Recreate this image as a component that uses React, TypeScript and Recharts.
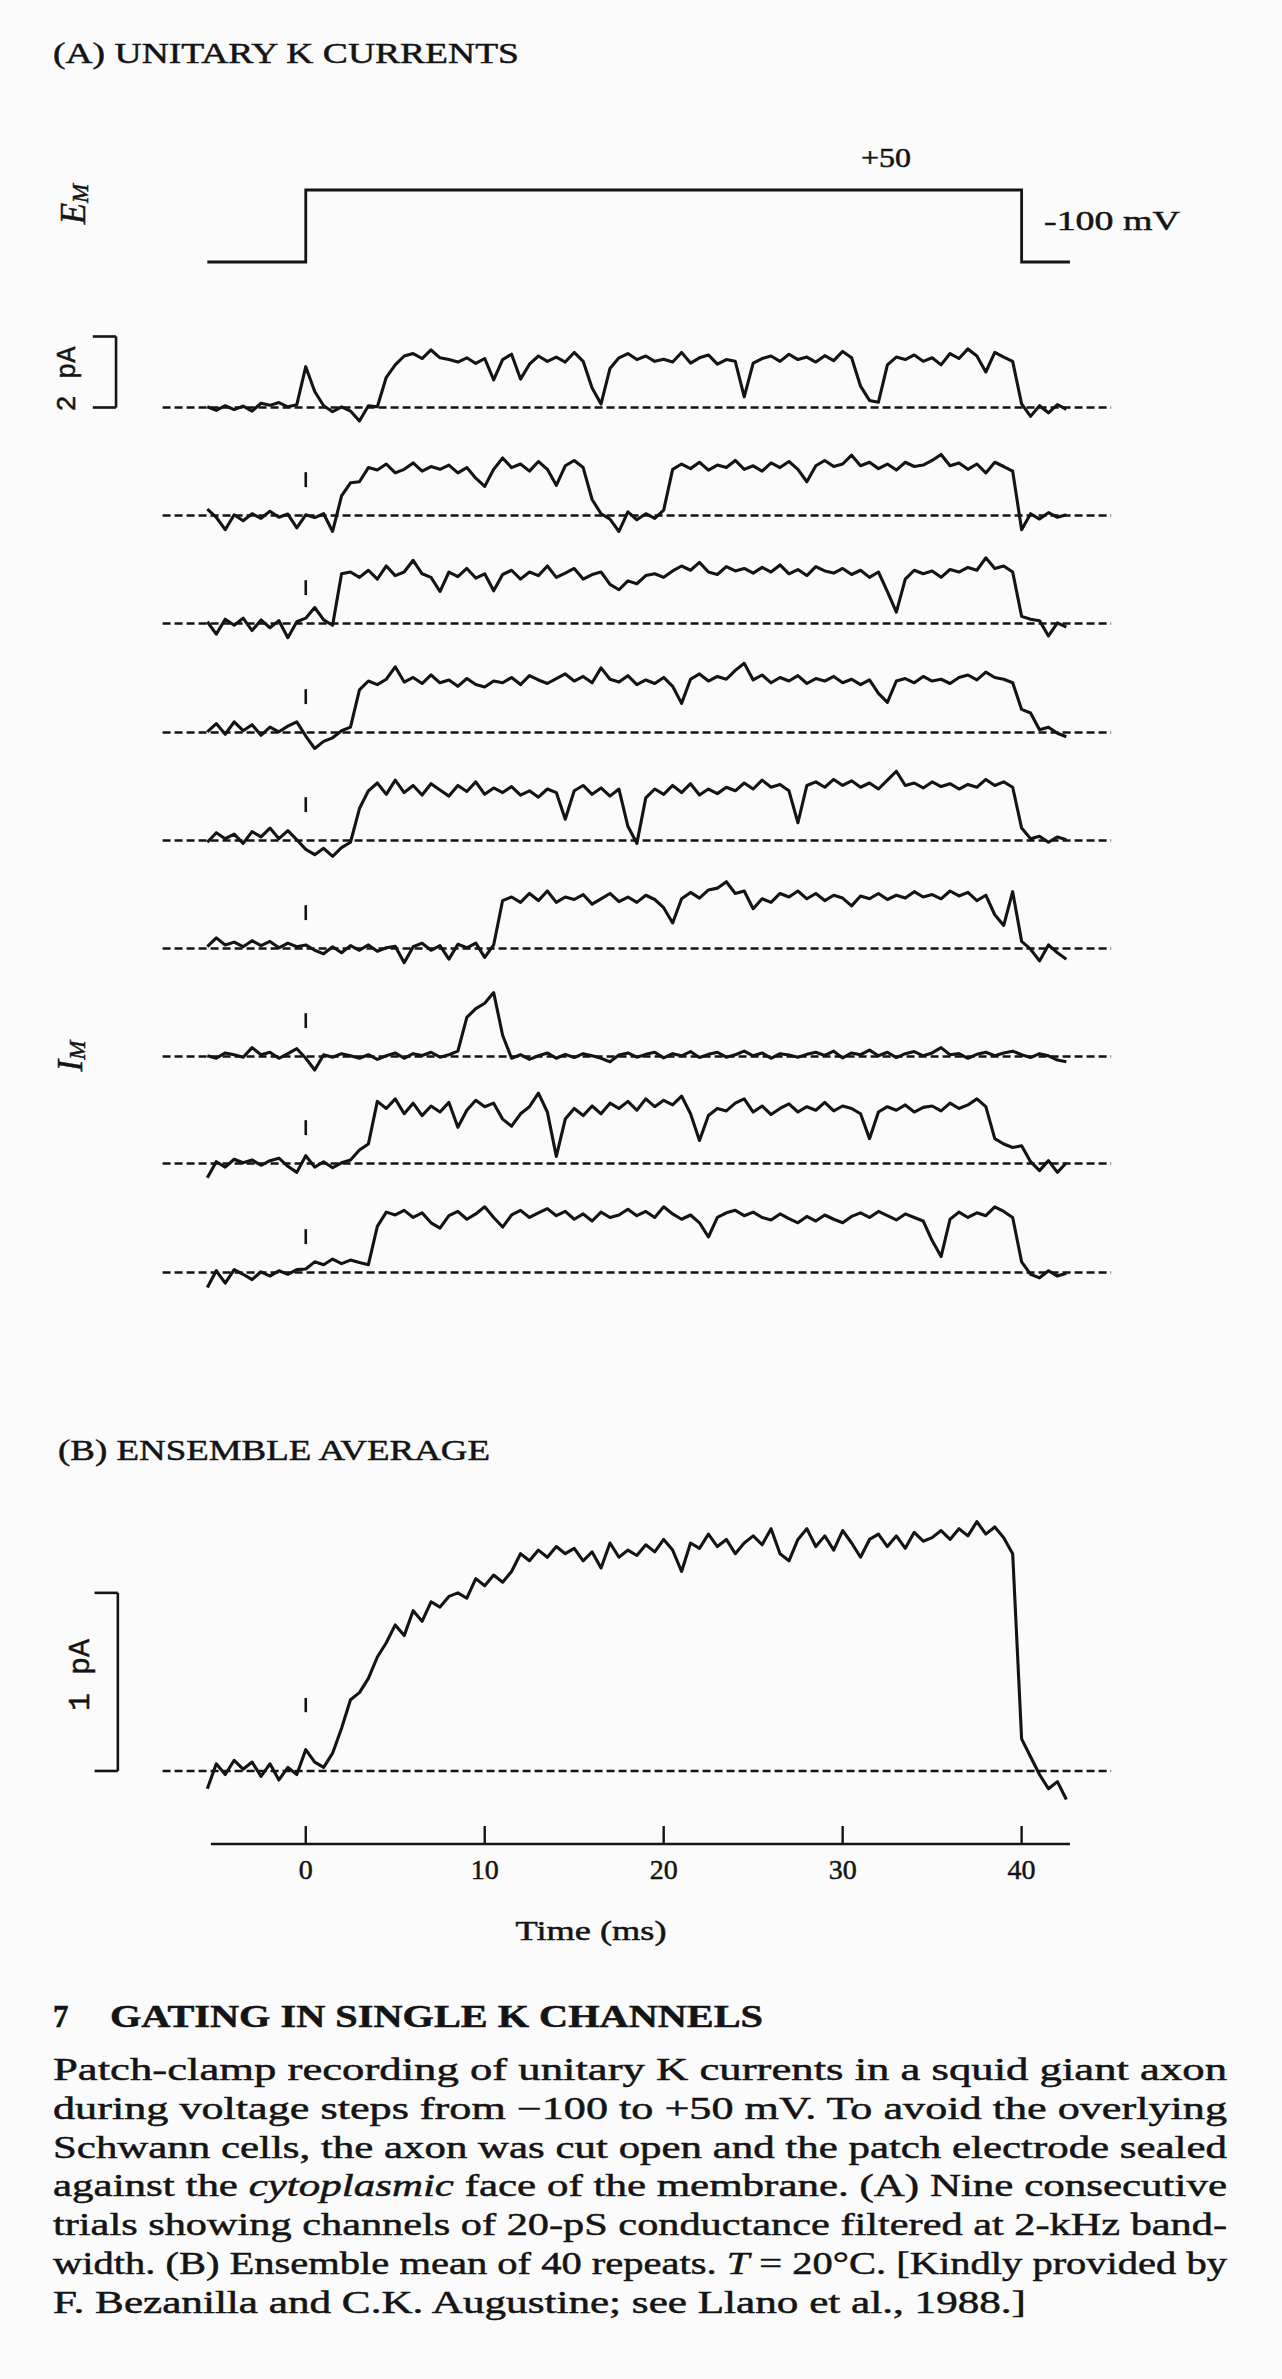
import React from "react";
import { LineChart, Line, XAxis, YAxis, ReferenceLine } from "recharts";

const T_START = -5.5;
const T_STEP = 0.5;

// ---- (A) nine consecutive trials, current in pA ----
const trial1 = [
  0.02, -0.08, 0.05, -0.06, 0.04, -0.1, 0.12, 0.06, 0.14, 0.02,
  0.08, 1.15, 0.45, 0.05, -0.12, 0.02, -0.1, -0.38, 0.05, 0.02,
  0.85, 1.2, 1.45, 1.52, 1.38, 1.62, 1.4, 1.35, 1.28, 1.4,
  1.24, 1.38, 0.78, 1.35, 1.5, 0.8, 1.22, 1.45, 1.3, 1.42,
  1.28, 1.55, 1.3, 0.55, 0.1, 1.1, 1.4, 1.52, 1.35, 1.45,
  1.3, 1.36, 1.28, 1.55, 1.25, 1.4, 1.48, 1.22, 1.35, 1.3,
  0.3, 1.25, 1.38, 1.45, 1.3, 1.5, 1.35, 1.42, 1.28, 1.46,
  1.32, 1.58, 1.4, 0.6, 0.2, 0.15, 1.2, 1.42, 1.35, 1.48,
  1.3, 1.4, 1.2, 1.52, 1.38, 1.65, 1.45, 1.0, 1.55, 1.42,
  1.3, 0.1, -0.25, 0.05, -0.15, 0.08, -0.05,
];
const trial2 = [
  0.18, -0.05, -0.4, 0.02, -0.15, 0.05, -0.08, 0.12, -0.05, 0.04,
  -0.35, 0.02, -0.06, 0.05, -0.45, 0.55, 0.92, 0.95, 1.35, 1.28,
  1.45, 1.2, 1.3, 1.48, 1.25, 1.38, 1.3, 1.42, 1.2, 1.35,
  1.05, 0.82, 1.3, 1.62, 1.35, 1.45, 1.25, 1.52, 1.3, 0.85,
  1.4, 1.55, 1.35, 0.45, 0.05, -0.1, -0.45, 0.1, -0.12, 0.05,
  -0.08, 0.15, 1.3, 1.45, 1.32, 1.5, 1.28, 1.42, 1.35, 1.55,
  1.3, 1.4, 1.25, 1.48, 1.35, 1.52, 1.3, 0.95, 1.4, 1.55,
  1.38, 1.45, 1.7, 1.4, 1.5, 1.32, 1.45, 1.28, 1.5, 1.38,
  1.42, 1.55, 1.72, 1.4, 1.48, 1.3, 1.45, 1.2, 1.5, 1.38,
  1.25, -0.4, 0.05, -0.1, 0.08, -0.05, 0.02,
];
const trial3 = [
  0.05, -0.3, 0.12, -0.05, 0.15, -0.2, 0.1, -0.12, 0.08, -0.4,
  0.05, 0.15, 0.45, 0.1, -0.05, 1.4, 1.45, 1.3, 1.5, 1.25,
  1.62, 1.35, 1.45, 1.78, 1.4, 1.3, 0.9, 1.45, 1.32, 1.55,
  1.28, 1.4, 0.92, 1.38, 1.5, 1.25, 1.45, 1.35, 1.62, 1.3,
  1.42, 1.55, 1.25, 1.38, 1.45, 1.1, 0.95, 1.2, 1.12, 1.35,
  1.4, 1.3, 1.48, 1.62, 1.5, 1.72, 1.45, 1.38, 1.6, 1.48,
  1.55, 1.42, 1.58, 1.45, 1.65, 1.4, 1.52, 1.35, 1.6, 1.48,
  1.42, 1.55, 1.38, 1.5, 1.3, 1.45, 0.9, 0.32, 1.25, 1.5,
  1.4, 1.48, 1.3, 1.52, 1.45, 1.58, 1.5, 1.85, 1.55, 1.62,
  1.45, 0.2, 0.12, 0.08, -0.35, 0.02, -0.1,
];
const trial4 = [
  0.02, 0.25, -0.05, 0.3, 0.05, 0.22, -0.08, 0.15, 0.02, 0.18,
  0.3, -0.1, -0.45, -0.25, -0.15, 0.05, 0.15, 1.2, 1.45, 1.35,
  1.5, 1.85, 1.42, 1.55, 1.38, 1.62, 1.4, 1.48, 1.3, 1.52,
  1.35, 1.28, 1.45, 1.4, 1.55, 1.35, 1.6, 1.48, 1.38, 1.52,
  1.65, 1.45, 1.58, 1.4, 1.82, 1.5, 1.42, 1.6, 1.35, 1.48,
  1.38, 1.55, 1.3, 0.82, 1.5, 1.65, 1.45, 1.58, 1.5, 1.75,
  1.95, 1.48, 1.62, 1.4, 1.55, 1.45, 1.6, 1.38, 1.52, 1.45,
  1.58, 1.4, 1.5, 1.35, 1.48, 1.1, 0.85, 1.45, 1.52, 1.4,
  1.58, 1.45, 1.5, 1.38, 1.55, 1.62, 1.48, 1.7, 1.55, 1.5,
  1.4, 0.65, 0.55, 0.08, 0.15, -0.02, -0.12,
];
const trial5 = [
  -0.05, 0.22, 0.05, 0.18, -0.08, 0.25, 0.1, 0.35, 0.05, 0.28,
  0.02, -0.25, -0.4, -0.22, -0.45, -0.2, -0.05, 0.9, 1.4, 1.62,
  1.3, 1.7, 1.35, 1.55, 1.28, 1.6, 1.42, 1.25, 1.55, 1.38,
  1.65, 1.3, 1.48, 1.35, 1.52, 1.28, 1.4, 1.22, 1.45, 1.35,
  0.6, 1.4, 1.55, 1.3, 1.48, 1.25, 1.45, 0.4, -0.08, 1.2,
  1.45, 1.3, 1.55, 1.35, 1.6, 1.28, 1.45, 1.32, 1.5, 1.4,
  1.62, 1.45, 1.7, 1.5, 1.58, 1.4, 0.5, 1.55, 1.65, 1.5,
  1.72, 1.55, 1.68, 1.5, 1.62, 1.45, 1.7, 1.95, 1.55, 1.62,
  1.48, 1.65, 1.52, 1.6, 1.45, 1.58, 1.5, 1.72, 1.55, 1.65,
  1.5, 0.35, 0.05, 0.12, -0.05, 0.1, 0.02,
];
const trial6 = [
  0.05, 0.3, 0.1, 0.18, 0.05, 0.22, 0.08, 0.2, 0.02, 0.15,
  0.05, 0.1, -0.05, -0.15, 0.05, -0.12, 0.08, -0.05, 0.1, -0.08,
  0.02, 0.06, -0.4, 0.05, 0.15, -0.05, 0.08, -0.3, 0.12, 0.02,
  0.15, -0.25, 0.1, 1.35, 1.45, 1.3, 1.55, 1.35, 1.62, 1.3,
  1.45, 1.38, 1.52, 1.25, 1.4, 1.55, 1.32, 1.45, 1.3, 1.5,
  1.38, 1.15, 0.72, 1.4, 1.58, 1.42, 1.65, 1.7, 1.88, 1.55,
  1.62, 1.12, 1.4, 1.3, 1.55, 1.45, 1.62, 1.4, 1.55, 1.35,
  1.5, 1.42, 1.2, 1.48, 1.4, 1.55, 1.38, 1.5, 1.42, 1.6,
  1.45, 1.52, 1.4, 1.62, 1.48, 1.58, 1.35, 1.5, 0.95, 0.65,
  1.6, 0.2, -0.02, -0.35, 0.1, -0.12, -0.3,
];
const trial7 = [
  0.02, -0.05, 0.1, 0.05, -0.02, 0.25, 0.05, 0.12, -0.05, 0.08,
  0.22, -0.05, -0.38, 0.05, -0.02, 0.08, 0.02, -0.05, 0.05, -0.08,
  0.02, 0.1, -0.05, 0.08, 0.03, 0.12, -0.02, 0.05, 0.15, 1.1,
  1.35, 1.5, 1.8, 0.6, -0.05, 0.05, -0.08, 0.02, 0.1, -0.05,
  0.06, -0.03, 0.08, 0.02, -0.05, -0.15, 0.04, 0.1, -0.02, 0.06,
  0.12, -0.04, 0.08, 0.02, 0.14, -0.03, 0.06, 0.12, -0.02, 0.05,
  0.15, 0.02, 0.1, -0.05, 0.08, 0.04, -0.02, 0.06, 0.12, 0.03,
  0.15, -0.04, 0.1, 0.05, 0.18, 0.02, 0.12, -0.03, 0.08, 0.14,
  0.02, 0.1, 0.25, 0.05, 0.08, -0.05, 0.06, 0.12, 0.02, 0.1,
  0.15, 0.05, -0.03, 0.08, 0.02, -0.1, -0.15,
];
const trial8 = [
  -0.4, 0.05, -0.1, 0.12, 0.02, 0.1, -0.05, 0.08, 0.15, -0.08,
  -0.25, 0.22, -0.1, 0.05, -0.12, 0.02, 0.1, 0.38, 0.55, 1.75,
  1.55, 1.82, 1.4, 1.7, 1.35, 1.62, 1.45, 1.72, 1.02, 1.5,
  1.78, 1.6, 1.7, 1.25, 1.05, 1.4, 1.6, 1.98, 1.45, 0.2,
  1.25, 1.55, 1.35, 1.62, 1.4, 1.7, 1.55, 1.75, 1.5, 1.82,
  1.6, 1.78, 1.65, 1.9, 1.4, 0.65, 1.35, 1.55, 1.48, 1.7,
  1.82, 1.45, 1.62, 1.38, 1.55, 1.68, 1.45, 1.6, 1.5, 1.72,
  1.48, 1.62, 1.55, 1.4, 0.7, 1.45, 1.6, 1.5, 1.65, 1.45,
  1.58, 1.62, 1.48, 1.7, 1.55, 1.65, 1.82, 1.6, 0.7, 0.55,
  0.45, 0.5, 0.05, -0.2, 0.08, -0.25, 0.02,
];
const trial9 = [
  -0.42, 0.05, -0.3, 0.08, -0.05, -0.2, 0.02, -0.1, 0.05, -0.05,
  0.08, 0.1, 0.3, 0.22, 0.38, 0.25, 0.35, 0.28, 0.22, 1.3,
  1.7, 1.62, 1.75, 1.55, 1.68, 1.4, 1.25, 1.6, 1.72, 1.5,
  1.65, 1.85, 1.55, 1.28, 1.62, 1.75, 1.55, 1.68, 1.8, 1.6,
  1.72, 1.5, 1.65, 1.45, 1.7, 1.55, 1.62, 1.78, 1.6, 1.72,
  1.55, 1.85, 1.65, 1.5, 1.62, 1.4, 1.0, 1.55, 1.68, 1.75,
  1.6, 1.7, 1.55, 1.48, 1.65, 1.52, 1.4, 1.58, 1.45, 1.62,
  1.5, 1.4, 1.58, 1.68, 1.55, 1.72, 1.6, 1.48, 1.65, 1.55,
  1.45, 0.9, 0.45, 1.5, 1.7, 1.55, 1.68, 1.6, 1.85, 1.72,
  1.55, 0.3, -0.05, -0.15, 0.05, -0.1, -0.02,
];
const trials = [trial1, trial2, trial3, trial4, trial5, trial6, trial7, trial8, trial9];

// ---- (B) ensemble mean of 40 repeats, pA ----
const ensemble = [
  -0.1, 0.04, -0.02, 0.06, 0.01, 0.05, -0.03, 0.04, -0.05, 0.02,
  -0.02, 0.12, 0.05, 0.02, 0.1, 0.24, 0.4, 0.44, 0.52, 0.64,
  0.72, 0.82, 0.76, 0.9, 0.84, 0.95, 0.92, 0.98, 1.0, 0.97,
  1.08, 1.04, 1.1, 1.06, 1.12, 1.22, 1.18, 1.24, 1.2, 1.26,
  1.22, 1.25, 1.18, 1.23, 1.14, 1.28, 1.2, 1.24, 1.21, 1.27,
  1.23, 1.3, 1.24, 1.12, 1.28, 1.25, 1.33, 1.26, 1.3, 1.22,
  1.28, 1.32, 1.27, 1.36, 1.22, 1.18, 1.3, 1.36, 1.26, 1.32,
  1.24, 1.35, 1.28, 1.2, 1.3, 1.33, 1.26, 1.32, 1.25, 1.34,
  1.29, 1.31, 1.35, 1.3, 1.36, 1.32, 1.4, 1.33, 1.37, 1.31,
  1.22, 0.18, 0.08, -0.02, -0.1, -0.06, -0.16,
];

// ---- E_M voltage protocol ----
const stepTimes = [-5.5, 0, 0, 40, 40, 42.7];
const stepVoltages = [-100, -100, 50, 50, -100, -100];

const timeTicks = [0, 10, 20, 30, 40];

const captionLines = [
  "Patch-clamp recording of unitary K currents in a squid giant axon",
  "during voltage steps from \u2212100 to +50 mV. To avoid the overlying",
  "Schwann cells, the axon was cut open and the patch electrode sealed",
  null, // line with italic word, built below
  "trials showing channels of 20-pS conductance filtered at 2-kHz band-",
  null,
  "F. Bezanilla and C.K. Augustine; see Llano et al., 1988.]",
];

// ---- layout ----
const W = 1282;
const H = 2379;
const INK = "#141414";
const PAPER = "#fbfbfb";
const SERIF = "'Liberation Serif', 'DejaVu Serif', serif";
const MONO = "'Liberation Mono', 'DejaVu Sans Mono', monospace";
const X_DOMAIN: [number, number] = [-12, 46];
const MARGIN = { top: 0, right: 153, bottom: 0, left: 91 };
const BASELINES = [407, 515, 623, 732, 840, 948, 1056, 1163, 1272];
const TRACE_W = 3.1;

const toRows = (values: number[]) => values.map((v, i) => ({ t: T_START + i * T_STEP, v }));

const dashed = { stroke: INK, strokeWidth: 2.4, strokeDasharray: "8 4" };
const solid = { stroke: INK, strokeWidth: 2.6 };

const Trial = ({ values, baseline, first }: { values: number[]; baseline: number; first: boolean }) => {
  const extras = first
    ? [
        <ReferenceLine key="sv" segment={[{ x: -10.6, y: 0 }, { x: -10.6, y: 2 }]} {...solid} />,
        <ReferenceLine key="sb" segment={[{ x: -11.9, y: 0 }, { x: -10.6, y: 0 }]} {...solid} />,
        <ReferenceLine key="st" segment={[{ x: -11.9, y: 2 }, { x: -10.6, y: 2 }]} {...solid} />,
      ]
    : [<ReferenceLine key="m" segment={[{ x: 0, y: 0.8 }, { x: 0, y: 1.22 }]} {...solid} />];
  return (
    <div style={{ position: "absolute", left: 0, top: baseline - 84.5 }}>
      <LineChart width={W} height={120} data={toRows(values)} margin={MARGIN}>
        <XAxis dataKey="t" type="number" domain={X_DOMAIN} hide allowDataOverflow />
        <YAxis type="number" domain={[-1, 2.38]} hide allowDataOverflow />
        <ReferenceLine segment={[{ x: -8, y: 0 }, { x: 45, y: 0 }]} {...dashed} />
        {extras}
        <Line type="linear" dataKey="v" stroke={INK} strokeWidth={TRACE_W} strokeLinejoin="round" dot={false} isAnimationActive={false} />
      </LineChart>
    </div>
  );
};

const TimeTick = (props: any) => {
  const { x, y, payload } = props;
  return (
    <g>
      <line x1={x} x2={x} y1={y - 18} y2={y} stroke={INK} strokeWidth={2.4} />
      <text x={x} y={y + 35} textAnchor="middle" fontFamily={SERIF} fontSize={28} fill={INK} stroke={INK} strokeWidth={0.5}>
        {payload.value}
      </text>
    </g>
  );
};

const Rotated = ({ x, y, children, ...rest }: any) => (
  <text transform={`translate(${x},${y}) rotate(-90)`} textAnchor="middle" dominantBaseline="central" {...rest}>
    {children}
  </text>
);

const LINE_X = 53;
const LINE_W = 1174;
const lineY = (i: number) => 2080 + i * 38.8;

export default function App() {
  const stepRows = stepTimes.map((t, i) => ({ t, v: stepVoltages[i] }));
  return (
    <div style={{ position: "absolute", left: 0, top: 0, width: W, height: H, background: PAPER, overflow: "hidden" }}>
      {/* E_M protocol */}
      <div style={{ position: "absolute", left: 0, top: 166 }}>
        <LineChart width={W} height={120} data={stepRows} margin={MARGIN}>
          <XAxis dataKey="t" type="number" domain={X_DOMAIN} hide allowDataOverflow />
          <YAxis type="number" domain={[-150, 100]} hide allowDataOverflow />
          <Line type="linear" dataKey="v" stroke={INK} strokeWidth={2.8} dot={false} isAnimationActive={false} />
        </LineChart>
      </div>

      {trials.map((values, i) => (
        <Trial key={i} values={values} baseline={BASELINES[i]} first={i === 0} />
      ))}

      {/* (B) ensemble average with time axis */}
      <div style={{ position: "absolute", left: 0, top: 1486 }}>
        <LineChart width={W} height={418} data={toRows(ensemble)} margin={MARGIN}>
          <XAxis
            dataKey="t"
            type="number"
            domain={X_DOMAIN}
            ticks={timeTicks}
            interval={0}
            axisLine={false}
            tickLine={false}
            tickSize={0}
            tickMargin={0}
            height={60}
            tick={<TimeTick />}
            allowDataOverflow
          />
          <YAxis type="number" domain={[-0.41, 1.6]} hide allowDataOverflow />
          <ReferenceLine segment={[{ x: -8, y: 0 }, { x: 45, y: 0 }]} {...dashed} />
          <ReferenceLine segment={[{ x: 0, y: 0.33 }, { x: 0, y: 0.41 }]} {...solid} />
          <ReferenceLine segment={[{ x: -5.3, y: -0.41 }, { x: 42.7, y: -0.41 }]} {...solid} ifOverflow="visible" />
          <ReferenceLine segment={[{ x: -10.5, y: 0 }, { x: -10.5, y: 1 }]} {...solid} />
          <ReferenceLine segment={[{ x: -11.8, y: 0 }, { x: -10.5, y: 0 }]} {...solid} />
          <ReferenceLine segment={[{ x: -11.8, y: 1 }, { x: -10.5, y: 1 }]} {...solid} />
          <Line type="linear" dataKey="v" stroke={INK} strokeWidth={TRACE_W} strokeLinejoin="round" dot={false} isAnimationActive={false} />
        </LineChart>
      </div>

      <svg width={W} height={H} style={{ position: "absolute", left: 0, top: 0, pointerEvents: "none" }}>
        <g fontFamily={SERIF} fill={INK} stroke={INK} strokeWidth={0.5}>
          <text x={53} y={63} fontSize={30} textLength={466} lengthAdjust="spacingAndGlyphs">
            (A)  UNITARY K CURRENTS
          </text>
          <text x={861} y={167} fontSize={27} textLength={50} lengthAdjust="spacingAndGlyphs">+50</text>
          <text x={1044} y={230} fontSize={28} textLength={136} lengthAdjust="spacingAndGlyphs">-100 mV</text>
          <Rotated x={73} y={204} fontFamily={SERIF} fontStyle="italic" fontSize={35}>
            E<tspan fontSize={23} dy={7}>M</tspan>
          </Rotated>
          <Rotated x={70} y={1056} fontFamily={SERIF} fontStyle="italic" fontSize={35}>
            I<tspan fontSize={23} dy={7}>M</tspan>
          </Rotated>
          <Rotated x={68} y={379} fontFamily={MONO} fontSize={27}>2 pA</Rotated>
          <Rotated x={81} y={1675} fontFamily={MONO} fontSize={30}>1 pA</Rotated>

          <text x={58} y={1460} fontSize={30} textLength={432} lengthAdjust="spacingAndGlyphs">
            (B)  ENSEMBLE AVERAGE
          </text>
          <text x={591} y={1940} fontSize={28} textAnchor="middle" textLength={151} lengthAdjust="spacingAndGlyphs">
            Time (ms)
          </text>

          <text x={53} y={2027} fontSize={31} fontWeight="bold">7</text>
          <text x={110} y={2027} fontSize={31} fontWeight="bold" textLength={653} lengthAdjust="spacingAndGlyphs">
            GATING IN SINGLE K CHANNELS
          </text>

          {captionLines.map((line, i) =>
            line === null ? null : (
              <text
                key={i}
                x={LINE_X}
                y={lineY(i)}
                fontSize={31}
                textLength={i === 6 ? 973 : LINE_W}
                lengthAdjust="spacingAndGlyphs"
              >
                {line}
              </text>
            )
          )}
          <text x={LINE_X} y={lineY(3)} fontSize={31} textLength={LINE_W} lengthAdjust="spacingAndGlyphs">
            against the <tspan fontStyle="italic">cytoplasmic</tspan> face of the membrane. (A) Nine consecutive
          </text>
          <text x={LINE_X} y={lineY(5)} fontSize={31} textLength={LINE_W} lengthAdjust="spacingAndGlyphs">
            width. (B) Ensemble mean of 40 repeats. <tspan fontStyle="italic">T</tspan> = 20°C. [Kindly provided by
          </text>
        </g>
      </svg>
    </div>
  );
}
